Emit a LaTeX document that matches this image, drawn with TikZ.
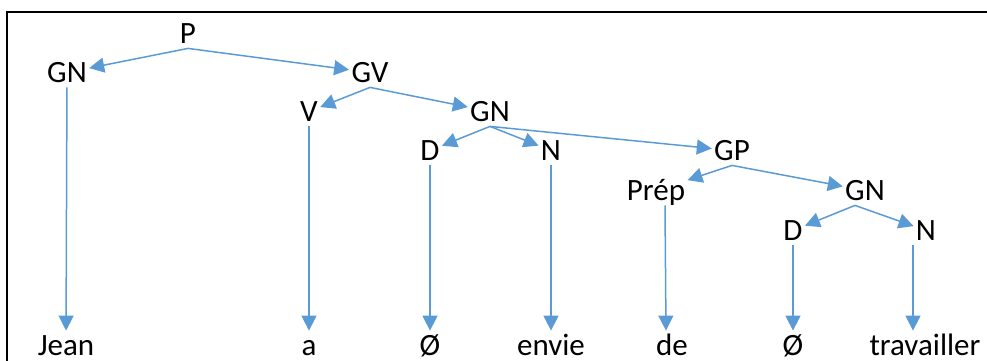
\documentclass[tikz,border=0pt]{standalone}
\usepackage{fontspec}
\setmainfont{Carlito}
\usetikzlibrary{arrows.meta}
\definecolor{branch}{HTML}{5B9BD5}

\begin{document}
\begin{tikzpicture}[x=0.5pt,y=-0.5pt,
    cat/.style={anchor=base,inner sep=1pt,text height=11pt,text depth=1.5pt,
      font=\fontsize{15.5}{18}\selectfont},
    br/.style={draw=branch,line width=0.75pt,-{Triangle[length=7.5pt,width=7.5pt]}}]
  \useasboundingbox (0,0) rectangle (987,360);
  \draw[line width=1pt] (987,12) -- (7,12) -- (7,361);
  % categories
  \node[cat] (p) at (188,43) {P};
  \node[cat] (gn1) at (67,82) {GN};
  \node[cat] (gv) at (370,82) {GV};
  \node[cat] (v) at (309,121) {V};
  \node[cat] (gn2) at (490,121) {GN};
  \node[cat] (d1) at (430,160) {D};
  \node[cat] (n1) at (551,160) {N};
  \node[cat] (gp) at (732,160) {GP};
  \node[cat] (prep) at (656,200) {Prép};
  \node[cat] (gn3) at (865,200) {GN};
  \node[cat] (d2) at (793,240) {D};
  \node[cat] (n2) at (926,240) {N};
  % words
  \node[cat] (jean) at (66,355) {Jean};
  \node[cat] (a) at (309,355) {a};
  \node[cat] (vide1) at (430,355) {Ø};
  \node[cat] (envie) at (551,355) {envie};
  \node[cat] (de) at (672,355) {de};
  \node[cat] (vide2) at (793,355) {Ø};
  \node[cat] (trav) at (925,355) {travailler};
  % branches
  \draw[br] (p.south) -- (gn1);
  \draw[br] (p.south) -- (gv);
  \draw[br] (gv.south) -- (v);
  \draw[br] (gv.south) -- (gn2);
  \foreach \c in {d1,n1,gp}
    \draw[br] (gn2.south) -- (\c);
  \draw[br] (gp.south) -- (prep);
  \draw[br] (gp.south) -- (gn3);
  \draw[br] ([xshift=-5pt]gn3.south) -- (d2);
  \draw[br] ([xshift=-5pt]gn3.south) -- (n2);
  % lexical items
  \draw[br] (gn1) -- (jean);
  \draw[br] (v) -- (a);
  \draw[br] (d1) -- (vide1);
  \draw[br] (n1) -- (envie);
  \draw[br] ([xshift=4.5pt]prep.south) -- ([xshift=-3pt]de.north);
  \draw[br] (d2) -- (vide2);
  \draw[br] ([xshift=-6.5pt]n2.south) -- ([xshift=-6pt]trav.north);
\end{tikzpicture}
\end{document}
